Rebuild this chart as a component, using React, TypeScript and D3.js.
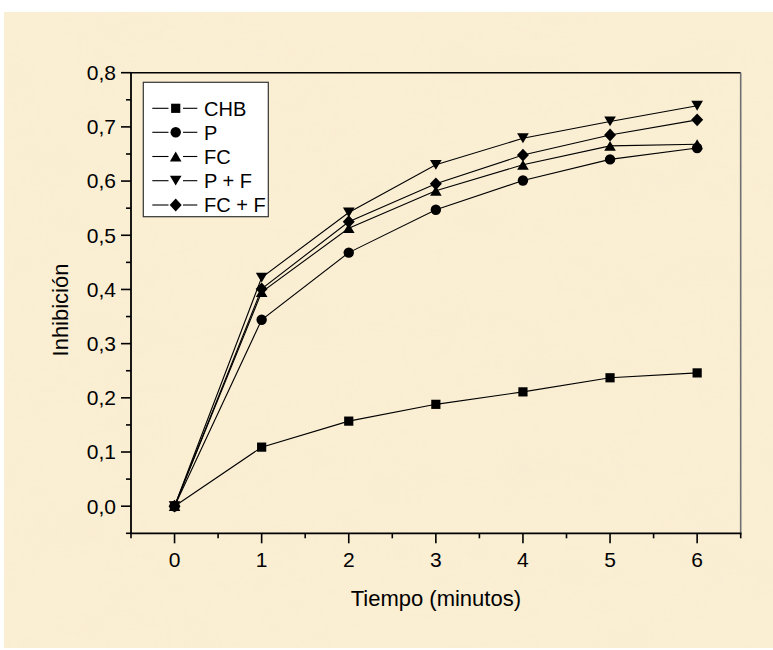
import React from "react";
import * as d3 from "d3";

const times = [0, 1, 2, 3, 4, 5, 6];
const seriesNames = ["CHB", "P", "FC", "P + F", "FC + F"];
const chb = [0, 0.109, 0.157, 0.188, 0.211, 0.237, 0.246];
const p = [0, 0.344, 0.468, 0.547, 0.601, 0.640, 0.661];
const fc = [0, 0.395, 0.513, 0.582, 0.630, 0.665, 0.668];
const pf = [0, 0.422, 0.542, 0.630, 0.679, 0.710, 0.739];
const fcf = [0, 0.401, 0.525, 0.595, 0.648, 0.685, 0.713];
const yTickLabels = ["0,0", "0,1", "0,2", "0,3", "0,4", "0,5", "0,6", "0,7", "0,8"];
const xTickLabels = ["0", "1", "2", "3", "4", "5", "6"];
const xTitle = "Tiempo (minutos)";
const yTitle = "Inhibición";

const W = 773, H = 650;
const L = 131, R = 740.7, T = 72.7, B = 533.3;
const FONT = "'Liberation Sans', Arial, sans-serif";

function markerPath(kind: number): string {
  switch (kind) {
    case 0: { const h = 4.6; return `M${-h},${-h}H${h}V${h}H${-h}Z`; }
    case 1: { const r = 5.2; return `M${r},0A${r},${r} 0 1,1 ${-r},0A${r},${r} 0 1,1 ${r},0Z`; }
    case 2: { const w = 5.8, h = 4.9; return `M0,${-h}L${w},${h}L${-w},${h}Z`; }
    case 3: { const w = 5.8, h = 4.9; return `M0,${h}L${w},${-h}L${-w},${-h}Z`; }
    default: { const w = 6, h = 6.4; return `M0,${-h}L${w},0L0,${h}L${-w},0Z`; }
  }
}

export default function App() {
  const allSeries = [chb, p, fc, pf, fcf];
  const x = d3.scaleLinear().domain([-0.5, 6.5]).range([L, R]);
  const y = d3.scaleLinear().domain([-0.05, 0.8]).range([B, T]);
  const line = d3.line<number>().x((_, i) => x(times[i])).y((v) => y(v));

  const yMajor = d3.range(0, 9).map((i) => i / 10);
  const yMinor = d3.range(0, 9).map((i) => -0.05 + i * 0.1);
  const xMajor = times;
  const xMinor = d3.range(0, 8).map((i) => -0.5 + i);

  const legX = 143.3, legY = 82.3, legW = 125, legH = 134.4;
  const legRows = [108.3, 132.3, 156.5, 180.7, 205];

  return (
    <svg width={W} height={H} style={{ position: "absolute", left: 0, top: 0, display: "block" }}
      xmlns="http://www.w3.org/2000/svg">
      <defs>
        <filter id="parch" x="0" y="0" width="100%" height="100%">
          <feTurbulence type="fractalNoise" baseFrequency="0.012 0.02" numOctaves="3" seed="7" result="n" />
          <feColorMatrix in="n" type="matrix"
            values="0 0 0 0 0.93  0 0 0 0 0.84  0 0 0 0 0.64  0 0 0 1.6 -0.72" />
        </filter>
      </defs>
      <rect x={0} y={0} width={W} height={H} fill="#ffffff" />
      <rect x={4} y={12} width={W - 4} height={636} fill="#faeed3" />
      <rect x={4} y={12} width={W - 4} height={636} filter="url(#parch)" opacity={0.6} />

      {/* frame */}
      <line x1={L} y1={T} x2={R} y2={T} stroke="#000" strokeWidth={1.6} />
      <line x1={R} y1={T} x2={R} y2={B} stroke="#707070" strokeWidth={1.6} />

      {/* y axis */}
      <line x1={L} y1={T - 0.8} x2={L} y2={B + 0.8} stroke="#000" strokeWidth={1.8} />
      {yMajor.map((v, i) => (
        <g key={"ym" + i}>
          <line x1={L - 10} x2={L} y1={y(v)} y2={y(v)} stroke="#000" strokeWidth={1.6} />
          <text x={L - 15} y={y(v)} dy="0.35em" textAnchor="end" fontFamily={FONT} fontSize={21}>
            {yTickLabels[i]}
          </text>
        </g>
      ))}
      {yMinor.map((v, i) => (
        <line key={"yn" + i} x1={L - 5} x2={L} y1={y(v)} y2={y(v)} stroke="#000" strokeWidth={1.6} />
      ))}

      {/* x axis */}
      <line x1={L - 0.8} y1={B} x2={R + 0.8} y2={B} stroke="#000" strokeWidth={1.8} />
      {xMajor.map((v, i) => (
        <g key={"xm" + i}>
          <line x1={x(v)} x2={x(v)} y1={B} y2={B + 10} stroke="#000" strokeWidth={1.6} />
          <text x={x(v)} y={566.5} textAnchor="middle" fontFamily={FONT} fontSize={21}>
            {xTickLabels[i]}
          </text>
        </g>
      ))}
      {xMinor.map((v, i) => (
        <line key={"xn" + i} x1={x(v)} x2={x(v)} y1={B} y2={B + 5} stroke="#000" strokeWidth={1.6} />
      ))}

      {/* titles */}
      <text x={(L + R) / 2} y={605.5} textAnchor="middle" fontFamily={FONT} fontSize={22}>{xTitle}</text>
      <text transform={`translate(68,310) rotate(-90)`} textAnchor="middle" fontFamily={FONT} fontSize={22}>{yTitle}</text>

      {/* series */}
      {allSeries.map((s, si) => (
        <path key={"l" + si} d={line(s) || ""} fill="none" stroke="#000" strokeWidth={1.1} />
      ))}
      {allSeries.map((s, si) => (
        <g key={"m" + si}>
          {s.map((v, i) => (
            <path key={i} d={markerPath(si)} transform={`translate(${x(times[i])},${y(v)})`} fill="#000" />
          ))}
        </g>
      ))}

      {/* legend */}
      <rect x={legX} y={legY} width={legW} height={legH} fill="#ffffff" stroke="#333" strokeWidth={1.2} />
      {seriesNames.map((name, i) => (
        <g key={"lg" + i}>
          <line x1={152.3} x2={168.5} y1={legRows[i]} y2={legRows[i]} stroke="#000" strokeWidth={1.1} />
          <line x1={183} x2={197.3} y1={legRows[i]} y2={legRows[i]} stroke="#000" strokeWidth={1.1} />
          <path d={markerPath(i)} transform={`translate(175.7,${legRows[i]})`} fill="#000" />
          <text x={204} y={legRows[i]} dy="0.36em" fontFamily={FONT} fontSize={20}>{name}</text>
        </g>
      ))}
    </svg>
  );
}
